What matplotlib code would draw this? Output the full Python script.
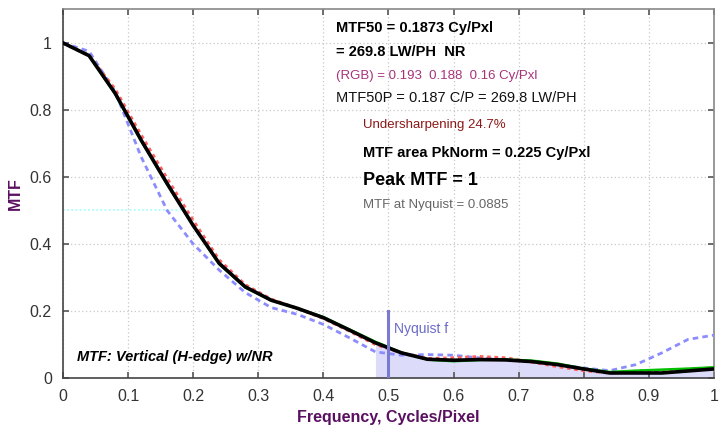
import matplotlib
matplotlib.use("Agg")
import matplotlib.pyplot as plt
import numpy as np

plt.rcParams['font.family'] = ['Liberation Sans', 'DejaVu Sans']

freq = [0.0, 0.04, 0.08, 0.12, 0.16, 0.20, 0.24, 0.28, 0.32, 0.36, 0.40, 0.44, 0.48,
        0.52, 0.56, 0.60, 0.64, 0.68, 0.72, 0.76, 0.80, 0.84, 0.88, 0.92, 0.96, 1.00]
mtf_y = [1.0, 0.962, 0.850, 0.710, 0.580, 0.455, 0.342, 0.272, 0.232, 0.208, 0.180, 0.143, 0.105,
         0.075, 0.056, 0.053, 0.055, 0.054, 0.049, 0.040, 0.027, 0.015, 0.015, 0.015, 0.021, 0.027]
mtf_r = [1.0, 0.962, 0.862, 0.725, 0.595, 0.470, 0.352, 0.278, 0.235, 0.208, 0.178, 0.140, 0.100,
         0.075, 0.058, 0.060, 0.064, 0.060, 0.048, 0.034, 0.022, 0.015, 0.020, 0.022, 0.026, 0.030]
mtf_g = [1.0, 0.962, 0.848, 0.708, 0.578, 0.455, 0.340, 0.270, 0.232, 0.208, 0.182, 0.145, 0.108,
         0.076, 0.055, 0.050, 0.054, 0.055, 0.052, 0.043, 0.028, 0.018, 0.022, 0.025, 0.028, 0.032]
mtf_b = [1.0, 0.975, 0.855, 0.660, 0.500, 0.400, 0.322, 0.255, 0.210, 0.190, 0.160, 0.120, 0.078,
         0.068, 0.070, 0.068, 0.060, 0.055, 0.050, 0.040, 0.030, 0.022, 0.040, 0.075, 0.115, 0.128]

mtf50 = 0.1873
nyq = 0.5

texts = [
    "MTF50 = 0.1873 Cy/Pxl",
    "= 269.8 LW/PH  NR",
    "(RGB) = 0.193  0.188  0.16 Cy/Pxl",
    "MTF50P = 0.187 C/P = 269.8 LW/PH",
    "Undersharpening 24.7%",
    "MTF area PkNorm = 0.225 Cy/Pxl",
    "Peak MTF = 1",
    "MTF at Nyquist = 0.0885",
]

fig = plt.figure(figsize=(7.27, 4.28), dpi=100)
ax = fig.add_axes([0.0867, 0.1168, 0.8953, 0.8612])
ax.set_xlim(0, 1)
ax.set_ylim(0, 1.1)

ax.set_xticks(np.arange(0, 1.01, 0.1))
ax.set_xticklabels(["0", "0.1", "0.2", "0.3", "0.4", "0.5", "0.6", "0.7", "0.8", "0.9", "1"])
ax.set_yticks([0, 0.2, 0.4, 0.6, 0.8, 1.0])
ax.set_yticklabels(["0", "0.2", "0.4", "0.6", "0.8", "1"])
ax.tick_params(direction='in', top=True, right=True, length=4, width=1.2,
               colors='#555555', labelcolor='#333333', labelsize=11.5, pad=8)
ax.grid(True, linestyle=(0, (1, 2)), color='#c8c8c8', linewidth=0.9)
for s in ax.spines.values():
    s.set_color('#888888')
    s.set_linewidth(1.2)
ax.spines['left'].set_color('#444444')
ax.spines['bottom'].set_color('#444444')

# shaded region above Nyquist
f = np.array(freq)
y = np.array(mtf_y)
mask = f >= 0.48
ax.fill_between(f[mask], 0, y[mask], color='#dcdcfa', zorder=1, linewidth=0)

# MTF50 marker line
ax.plot([0, mtf50], [0.5, 0.5], color='#99ffff', linestyle=(0, (1, 1.5)), linewidth=1.2, zorder=2)

ax.plot(freq, mtf_b, color='#8c8cff', linestyle=(0, (2, 1.5)), linewidth=2.0, zorder=3)
ax.plot(freq, mtf_r, color='#ff6060', linestyle=(0, (1.2, 1.2)), linewidth=2.2, zorder=3)
ax.plot(freq, mtf_g, color='#00c000', linestyle='-', linewidth=1.8, zorder=3)
ax.plot(freq, mtf_y, color='black', linestyle='-', linewidth=2.6, zorder=4)

# Nyquist marker
ax.plot([nyq, nyq], [0, 0.2], color='#7a7ad0', linewidth=2.2, zorder=5)
ax.text(0.508, 0.145, "Nyquist f", color='#6a6ac8', fontsize=10, va='center', ha='left')

tx = 0.42
ax.text(tx, 1.045, texts[0], fontsize=10.5, fontweight='bold', va='center', ha='left')
ax.text(tx, 0.973, texts[1], fontsize=10.5, fontweight='bold', va='center', ha='left')
ax.text(tx, 0.901, texts[2], fontsize=9.5, color='#a8327a', va='center', ha='left')
ax.text(tx, 0.836, texts[3], fontsize=10.5, color='#111111', va='center', ha='left')
tx2 = 0.461
ax.text(tx2, 0.755, texts[4], fontsize=9.5, color='#8b1818', va='center', ha='left')
ax.text(tx2, 0.672, texts[5], fontsize=10.5, fontweight='bold', va='center', ha='left')
ax.text(tx2, 0.588, texts[6], fontsize=13, fontweight='bold', va='center', ha='left')
ax.text(tx2, 0.516, texts[7], fontsize=9.5, color='#666666', va='center', ha='left')

ax.text(0.022, 0.063, "MTF: Vertical (H-edge) w/NR", fontsize=10.5, fontweight='bold',
        fontstyle='italic', va='center', ha='left')

ax.set_xlabel("Frequency, Cycles/Pixel", fontsize=11.5, fontweight='bold', color='#5a1060', labelpad=4)
ax.set_ylabel("MTF", fontsize=11.5, fontweight='bold', color='#5a1060', labelpad=5)

fig.savefig("out.png", dpi=100)
